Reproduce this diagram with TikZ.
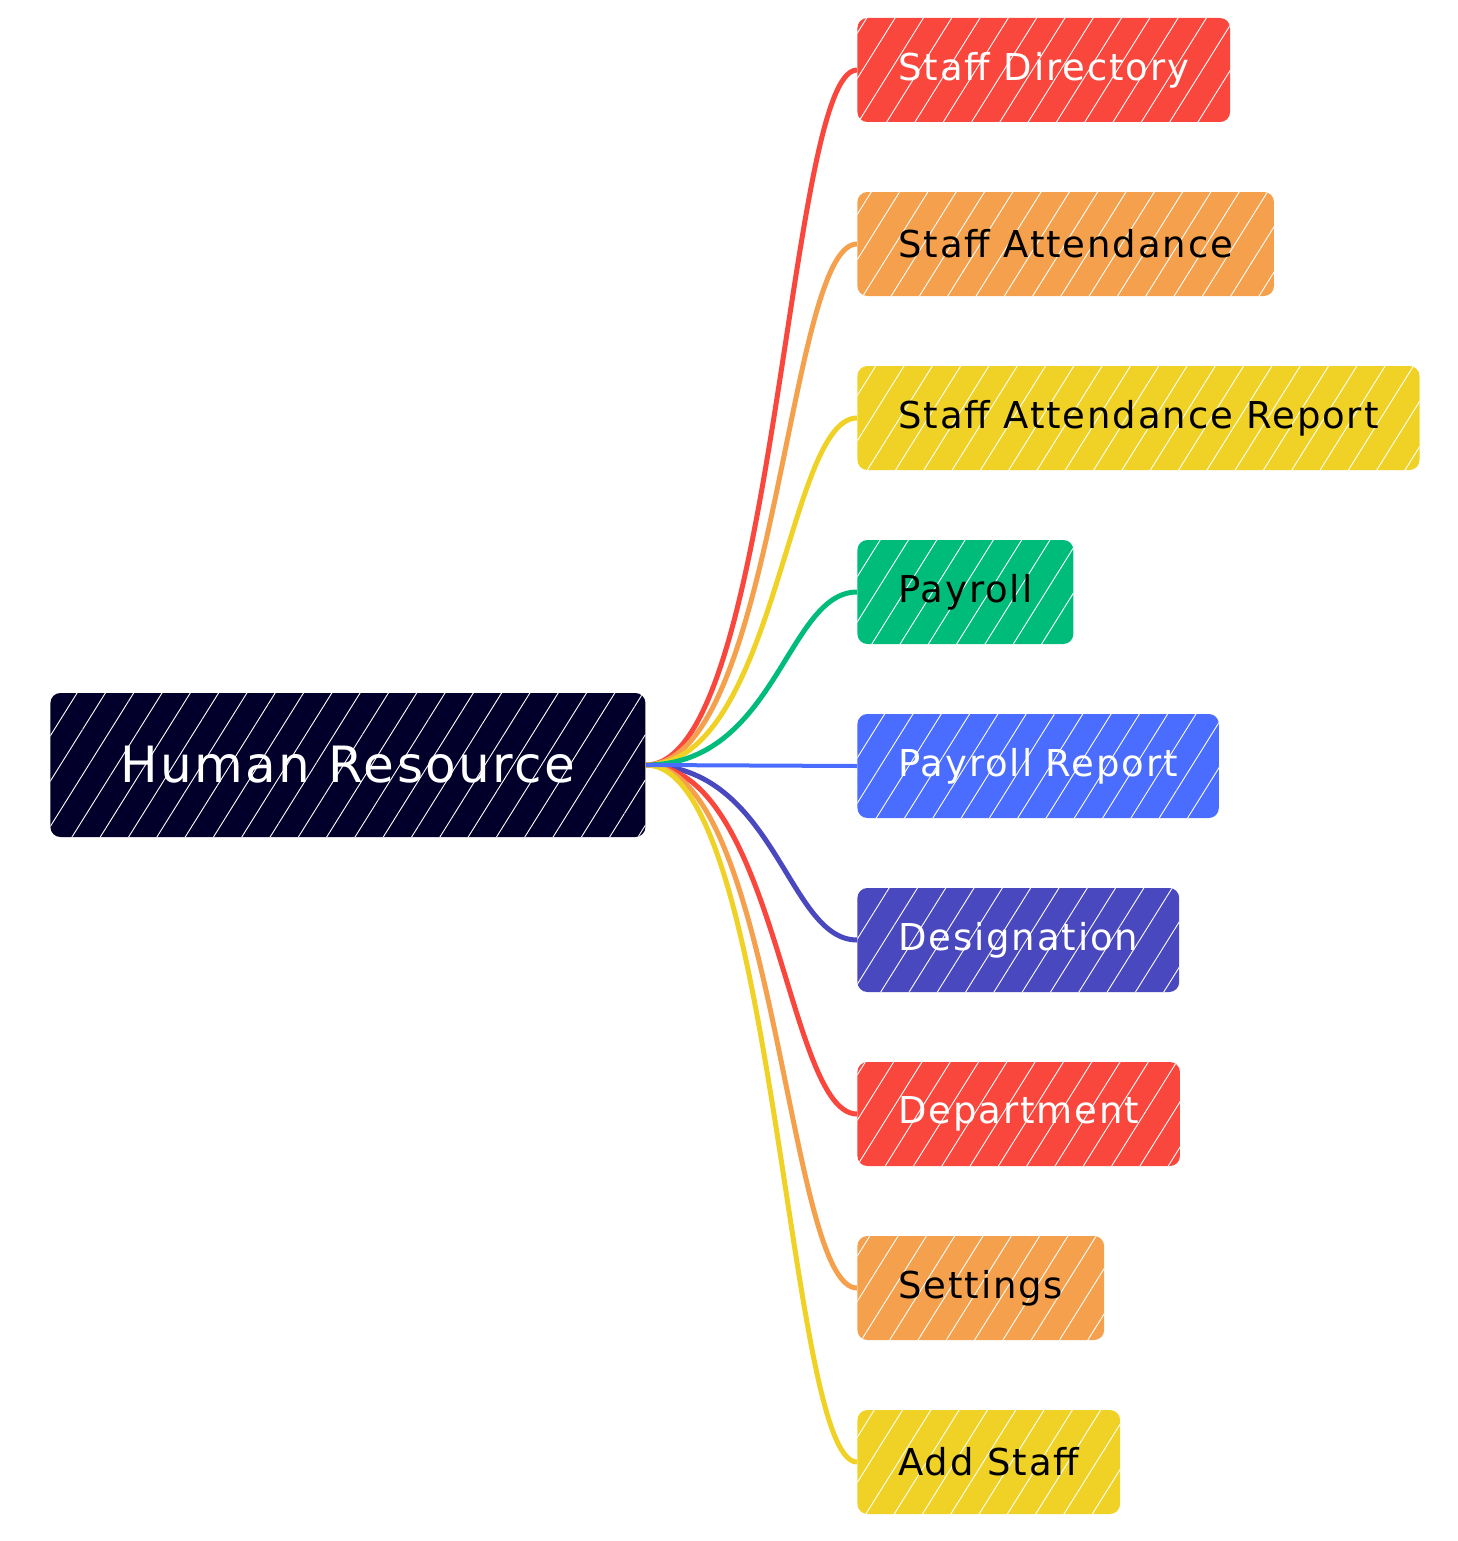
\documentclass[tikz,border=0pt]{standalone}
\usepackage{fontspec}
\setmainfont{DejaVu Sans}[LetterSpace=5]
\usetikzlibrary{positioning,patterns.meta}
\definecolor{hrnavy}{HTML}{02002A}
\definecolor{hrred}{HTML}{F9473D}
\definecolor{hrorange}{HTML}{F5A04C}
\definecolor{hryellow}{HTML}{F0D226}
\definecolor{hrgreen}{HTML}{00BC7A}
\definecolor{hrblue}{HTML}{4A6CFF}
\definecolor{hrindigo}{HTML}{4A48BF}

\begin{document}
\begin{tikzpicture}[x=0.5pt,y=-0.5pt,
    box/.style={rounded corners=5pt, minimum height=52pt, inner xsep=20.5pt, anchor=west,
      font=\fontsize{18.5}{22}\selectfont,
      postaction={pattern={Lines[angle=58,distance=12pt,line width=0.45pt]},
        pattern color=white, fill opacity=.3}},
    link/.style={line width=2.5pt}]
  \useasboundingbox (0,0) rectangle (1457,1541);
  \node[box, fill=hrnavy, text=white, minimum width=297.5pt, minimum height=72pt,
    font=\fontsize{25}{30}\selectfont] (hr) at (50,765) {Human Resource};
  \node[box, fill=hrred, text=white] (dir) at (857,70) {Staff Directory};
  \node[box, fill=hrorange] (att) at (857,244) {Staff Attendance};
  \node[box, fill=hryellow] (attrep) at (857,418) {Staff Attendance Report};
  \node[box, fill=hrgreen] (pay) at (857,592) {Payroll};
  \node[box, fill=hrblue, text=white] (payrep) at (857,766) {Payroll Report};
  \node[box, fill=hrindigo, text=white] (desig) at (857,940) {Designation};
  \node[box, fill=hrred, text=white] (dept) at (857,1114) {Department};
  \node[box, fill=hrorange] (set) at (857,1288) {Settings};
  \node[box, fill=hryellow] (add) at (857,1462) {Add Staff};
  % branches from the root
  \foreach \n/\c in {dir/hrred, att/hrorange, attrep/hryellow, pay/hrgreen,
      desig/hrindigo, dept/hrred, set/hrorange, add/hryellow}
    \draw[link, \c] (hr.east) .. controls +(130,0) and +(-70,0) .. (\n.west);
  \draw[line width=2pt, hrblue] (hr.east) -- (payrep.west);
\end{tikzpicture}
\end{document}
